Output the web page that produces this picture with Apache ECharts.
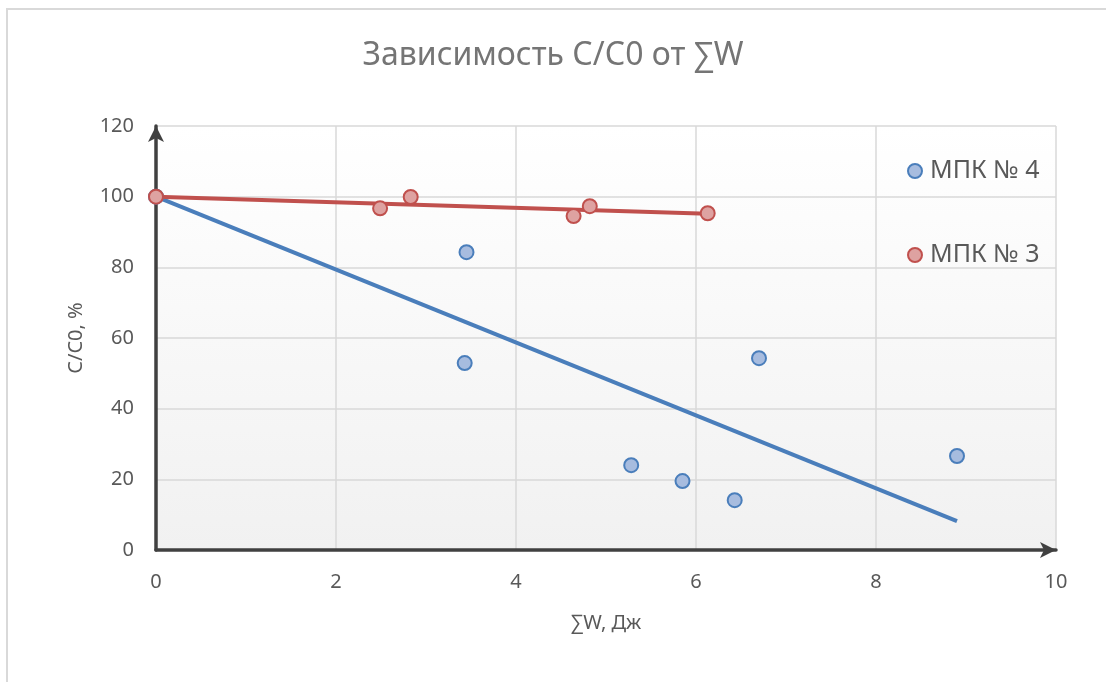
<!DOCTYPE html>
<html>
<head>
<meta charset="utf-8">
<script src="https://cdn.jsdelivr.net/npm/echarts@6/dist/echarts.min.js"></script>
<style>
  html, body { margin: 0; padding: 0; background: #ffffff; }
  #chart { width: 1106px; height: 682px; }
</style>
</head>
<body>
<div id="chart"></div>
<script>
// Measurements: cumulative energy ∑W (J) vs relative concentration C/C0 (%)
const mpk4X = [0, 3.45, 3.43, 5.28, 5.85, 6.43, 6.70, 8.90];
const mpk4Y = [100, 84.3, 52.9, 24.0, 19.5, 14.1, 54.3, 26.6];
const mpk3X = [0, 2.49, 2.83, 4.64, 4.82, 6.13];
const mpk3Y = [100, 96.7, 99.9, 94.5, 97.3, 95.3];

// Linear trend lines (start and end points)
const mpk4TrendX = [0, 8.90];
const mpk4TrendY = [100, 8.2];
const mpk3TrendX = [0, 6.13];
const mpk3TrendY = [100, 95.2];

const xTicks = [0, 2, 4, 6, 8, 10];
const yTicks = [0, 20, 40, 60, 80, 100, 120];

const seriesNames = ['МПК № 4', 'МПК № 3'];

const pairs = (xs, ys) => xs.map((x, i) => [x, ys[i]]);

const FONT = '"Noto Sans", "Open Sans", sans-serif';
const BLUE = '#4a7ebb';
const BLUE_FILL = '#a7bcdf';
const RED = '#c0504d';
const RED_FILL = '#dea2a1';

const chart = echarts.init(document.getElementById('chart'), null, { renderer: 'canvas' });

chart.setOption({
  backgroundColor: '#ffffff',
  animation: false,
  textStyle: { fontFamily: FONT },
  title: {
    text: 'Зависимость С/С0 от ∑W',
    left: 'center',
    top: 35,
    textStyle: { fontFamily: FONT, fontSize: 32, fontWeight: 'normal', color: '#757575' }
  },
  graphic: [{
    type: 'rect',
    shape: { x: 7, y: 9, width: 1200, height: 800 },
    style: { fill: 'none', stroke: '#d9d9d9', lineWidth: 2 },
    silent: true,
    z: -10
  }],
  legend: {
    orient: 'vertical',
    left: 902,
    top: 149,
    itemGap: 50,
    itemWidth: 20,
    itemHeight: 14,
    data: seriesNames.map(n => ({ name: n, icon: 'circle' })),
    textStyle: { fontFamily: FONT, fontSize: 25, color: '#595959', lineHeight: 34 }
  },
  grid: {
    left: 156,
    right: 50,
    top: 126,
    bottom: 132,
    show: true,
    borderWidth: 0,
    backgroundColor: new echarts.graphic.LinearGradient(0, 0, 0, 1, [
      { offset: 0, color: '#ffffff' },
      { offset: 1, color: '#f1f1f1' }
    ])
  },
  xAxis: {
    type: 'value',
    min: xTicks[0],
    max: xTicks[xTicks.length - 1],
    interval: 2,
    name: '∑W, Дж',
    nameLocation: 'middle',
    nameGap: 63,
    nameTextStyle: { fontFamily: FONT, fontSize: 20, color: '#595959' },
    axisLine: {
      show: true,
      onZero: false,
      symbol: ['none', 'arrow'],
      symbolSize: [12, 16],
      lineStyle: { color: '#404040', width: 3.5 }
    },
    axisTick: { show: false },
    axisLabel: { fontFamily: FONT, fontSize: 20, color: '#595959', margin: 22 },
    splitLine: { show: true, lineStyle: { color: '#d9d9d9', width: 1.5 } }
  },
  yAxis: {
    type: 'value',
    min: yTicks[0],
    max: yTicks[yTicks.length - 1],
    interval: 20,
    name: 'C/C0, %',
    nameLocation: 'middle',
    nameGap: 70,
    nameTextStyle: { fontFamily: FONT, fontSize: 20, color: '#595959' },
    axisLine: {
      show: true,
      onZero: false,
      symbol: ['none', 'arrow'],
      symbolSize: [12, 16],
      lineStyle: { color: '#404040', width: 3.5 }
    },
    axisTick: { show: false },
    axisLabel: { fontFamily: FONT, fontSize: 20, color: '#595959', margin: 22 },
    splitLine: { show: true, lineStyle: { color: '#d9d9d9', width: 1.5 } }
  },
  series: [
    {
      name: 'trend4',
      type: 'line',
      data: pairs(mpk4TrendX, mpk4TrendY),
      showSymbol: false,
      symbol: 'none',
      lineStyle: { color: BLUE, width: 4 },
      silent: true,
      z: 2
    },
    {
      name: 'trend3',
      type: 'line',
      data: pairs(mpk3TrendX, mpk3TrendY),
      showSymbol: false,
      symbol: 'none',
      lineStyle: { color: RED, width: 4 },
      silent: true,
      z: 2
    },
    {
      name: seriesNames[0],
      type: 'scatter',
      data: pairs(mpk4X, mpk4Y),
      symbol: 'circle',
      symbolSize: 14,
      itemStyle: { color: BLUE_FILL, borderColor: BLUE, borderWidth: 2, opacity: 1 },
      z: 3
    },
    {
      name: seriesNames[1],
      type: 'scatter',
      data: pairs(mpk3X, mpk3Y),
      symbol: 'circle',
      symbolSize: 14,
      itemStyle: { color: RED_FILL, borderColor: RED, borderWidth: 2, opacity: 1 },
      z: 4
    }
  ]
});
</script>
</body>
</html>
